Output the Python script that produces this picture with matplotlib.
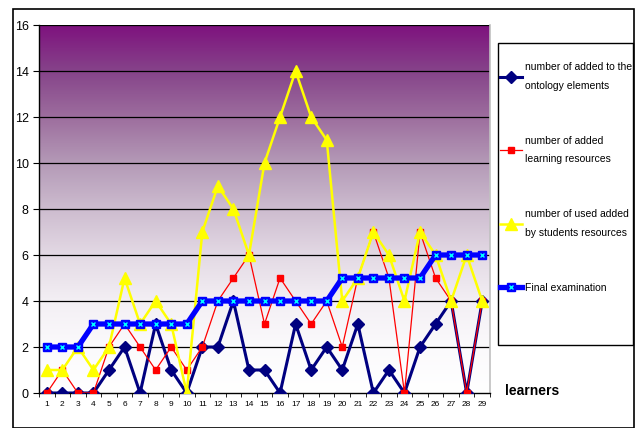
import numpy as np
import matplotlib
matplotlib.use('Agg')
import matplotlib.pyplot as plt
from matplotlib.colors import LinearSegmentedColormap
from matplotlib.patches import Rectangle

plt.rcParams['font.family'] = ['Liberation Sans', 'DejaVu Sans']

learners = list(range(1, 30))
ontology = [0, 0, 0, 0, 1, 2, 0, 3, 1, 0, 2, 2, 4, 1, 1, 0, 3, 1, 2, 1, 3, 0, 1, 0, 2, 3, 4, 0, 4]
resources = [0, 1, 0, 0, 2, 3, 2, 1, 2, 1, 2, 4, 5, 6, 3, 5, 4, 3, 4, 2, 5, 7, 5, 0, 7, 5, 4, 0, 4]
used = [1, 1, 2, 1, 2, 5, 3, 4, 3, 0, 7, 9, 8, 6, 10, 12, 14, 12, 11, 4, 5, 7, 6, 4, 7, 6, 4, 6, 4]
final = [2, 2, 2, 3, 3, 3, 3, 3, 3, 3, 4, 4, 4, 4, 4, 4, 4, 4, 4, 5, 5, 5, 5, 5, 5, 6, 6, 6, 6]

labels = ['number of added to the\nontology elements',
          'number of added\nlearning resources',
          'number of used added\nby students resources',
          'Final examination']

fig = plt.figure(figsize=(6.41, 4.28), dpi=100)
ax = fig.add_axes([39 / 641, 1 - 393 / 428, 451 / 641, 368 / 428])

# purple to white background gradient
stops = [(0.0, '#ffffff'), (0.125, '#fbfafc'), (0.25, '#f3eff4'), (0.375, '#e3d9e4'),
         (0.5, '#cdbccf'), (0.625, '#b49ab7'), (0.75, '#9d6e9e'), (0.875, '#86448a'),
         (1.0, '#7e127e')]
cmap = LinearSegmentedColormap.from_list('bg', stops)
grad = np.linspace(0, 1, 256).reshape(-1, 1)
ax.imshow(grad, cmap=cmap, origin='lower', aspect='auto',
          extent=[0.5, 29.5, 0, 16], zorder=0)

for yv in range(2, 17, 2):
    ax.axhline(yv, color='black', lw=0.9, zorder=1)

l1, = ax.plot(learners, ontology, color='#000080', lw=2.2, marker='D', ms=6.5,
              mfc='#000080', mec='#000080', zorder=3)
l2, = ax.plot(learners, resources, color='#ff0000', lw=0.9, marker='s', ms=4.5,
              mfc='#ff0000', mec='#ff0000', zorder=4)
l3, = ax.plot(learners, used, color='#ffff00', lw=1.8, marker='^', ms=9,
              mfc='#ffff00', mec='#ffff00', zorder=5)
l4, = ax.plot(learners, final, color='#0000ff', lw=3.8, marker='s', ms=6,
              mfc='#0000ff', mec='#0000ff', zorder=6)
l4b, = ax.plot(learners, final, ls='none', marker='x', ms=3, mew=1.0,
               color='#00ffff', zorder=7)

ax.set_xlim(0.5, 29.5)
ax.set_ylim(0, 16)
ax.set_yticks(range(0, 17, 2))
ax.set_xticks(learners)
ax.set_xticks(np.arange(0.5, 30, 1), minor=True)
ax.tick_params(axis='x', which='major', length=0, labelsize=6, pad=6)
ax.tick_params(axis='x', which='minor', length=3, direction='out')
ax.tick_params(axis='y', length=4, direction='out', labelsize=9)
ax.spines['top'].set_visible(False)
ax.spines['right'].set_color('#c0c0c0')
ax.spines['right'].set_linewidth(1.2)
ax.spines['left'].set_linewidth(1.0)
ax.spines['bottom'].set_linewidth(1.0)

# legend box drawn separately so its size matches the original
fig.patches.append(Rectangle((498 / 641, 1 - 345 / 428), 135 / 641, 302 / 428,
                             fill=True, facecolor='white', edgecolor='black',
                             lw=1.0, transform=fig.transFigure, figure=fig))
leg = fig.legend([l1, l2, l3, (l4, l4b)], labels, loc='upper left',
                 bbox_to_anchor=(500 / 641, 1 - 62 / 428), frameon=False,
                 fontsize=7.5, handlelength=2.1, handletextpad=0.3,
                 labelspacing=4.3, borderpad=0, borderaxespad=0)
for t in leg.get_texts():
    t.set_linespacing(2.1)

fig.text(505 / 641, 1 - 391 / 428, 'learners', fontsize=10, fontweight='bold',
         va='center', ha='left')

fig.patches.append(Rectangle((13 / 641, 0), 621 / 641, 1 - 9 / 428, fill=False,
                             edgecolor='black', lw=1.2, transform=fig.transFigure,
                             figure=fig))

fig.savefig('out.png', dpi=100)
